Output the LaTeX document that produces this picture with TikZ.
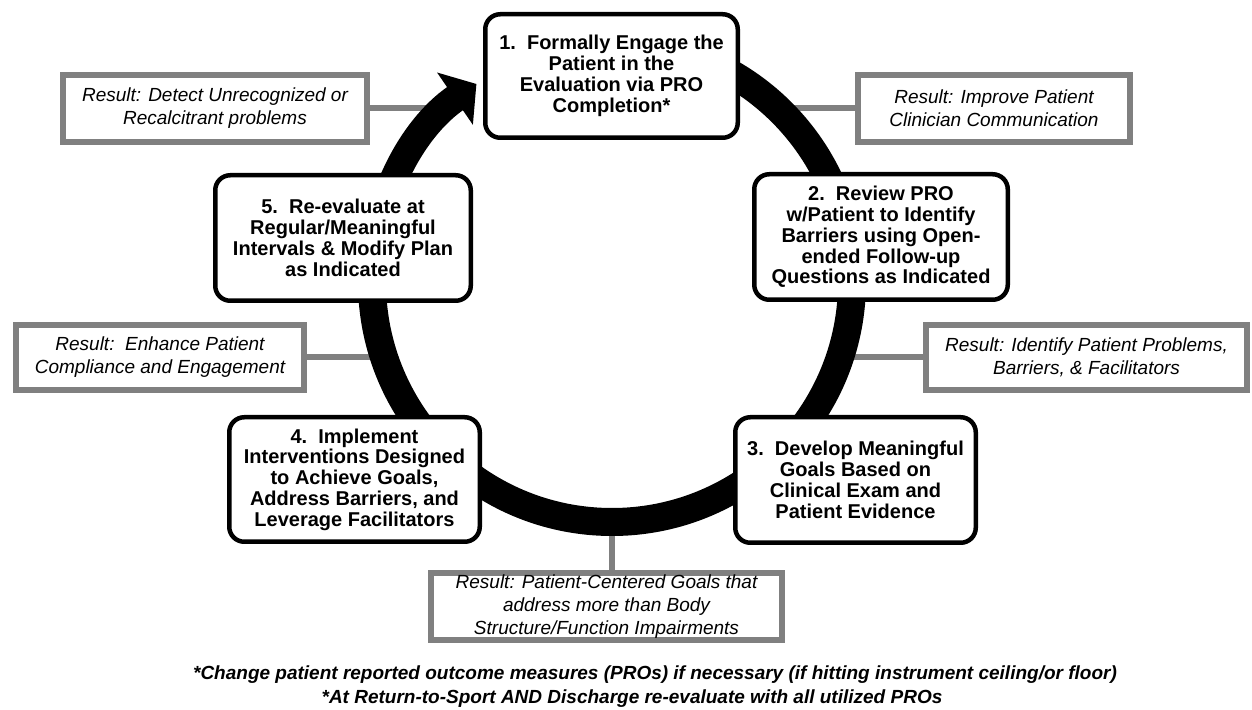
\documentclass[tikz,border=0pt]{standalone}
\usepackage{fontspec}
\setmainfont{Liberation Sans}
\usetikzlibrary{arrows.meta,calc}
\pgfdeclarelayer{back}
\pgfsetlayers{back,main}

\begin{document}
\begin{tikzpicture}[x=1pt,y=1pt,
    stepbox/.style={draw,line width=4.5pt,rounded corners=15pt,fill=white,align=center,inner sep=0pt,
        font=\fontsize{20}{20.8}\selectfont\bfseries},
    resultbox/.style={draw=black!50,line width=6pt,fill=white,align=center,inner sep=0pt,
        font=\fontsize{19}{23}\selectfont\itshape},
    link/.style={draw=black!50,line width=6pt},
    note/.style={font=\fontsize{19}{24}\selectfont\bfseries\itshape}]
    \useasboundingbox (0,0) rectangle (1252,709);
    %% Centre of the cycle and points on it
    \coordinate (ctr) at (612,427);
    \coordinate (P1) at ($(ctr)+(46.5:240)$);
    \coordinate (P2) at ($(ctr)+(-18.2:240)$);
    \coordinate (P3) at ($(ctr)+(270:240)$);
    \coordinate (P4) at ($(ctr)+(197.2:240)$);
    \coordinate (P5) at ($(ctr)+(133.1:240)$);
    %% Cycle arrow
    \draw[line width=28pt,-{Triangle[length=26pt,width=62pt]}] ($(ctr)+(90:240)$)
        arc[start angle=90,end angle=-235.6,radius=240];
    %% Steps
    \node[stepbox,minimum width=252.5,minimum height=123.5] (S1) at (611.5,633)
        {1.\ \ Formally Engage the\\Patient in the\\Evaluation via PRO\\Completion*};
    \node[stepbox,minimum width=253.5,minimum height=125.5] (S2) at (881,472)
        {2.\ \ Review PRO\\w/Patient to Identify\\Barriers using Open-\\ended Follow-up\\Questions as Indicated};
    \node[stepbox,minimum width=240.5,minimum height=125.5] (S3) at (855.5,229)
        {3.\ \ Develop Meaningful\\Goals Based on\\Clinical Exam and\\Patient Evidence};
    \node[stepbox,minimum width=250.5,minimum height=124.5] (S4) at (354.5,229.5)
        {4.\ \ Implement\\Interventions Designed\\to Achieve Goals,\\Address Barriers, and\\Leverage Facilitators};
    \node[stepbox,minimum width=255.5,minimum height=125.5] (S5) at (343,471)
        {5.\ \ Re-evaluate at\\Regular/Meaningful\\Intervals \& Modify Plan\\as Indicated};
    %% Results
    \node[resultbox,minimum width=272,minimum height=67] (R1) at (994,600.5)
        {Result: Improve Patient\\Clinician Communication};
    \node[resultbox,minimum width=321,minimum height=65] (R2) at (1086.5,351.5)
        {Result: Identify Patient Problems,\\Barriers, \& Facilitators};
    \node[resultbox,minimum width=351,minimum height=67] (R3) at (606.5,102.5)
        {Result: Patient-Centered Goals that\\address more than Body\\Structure/Function Impairments};
    \node[resultbox,minimum width=288,minimum height=65] (R4) at (160,351.5)
        {Result:\ \ Enhance Patient\\Compliance and Engagement};
    \node[resultbox,minimum width=304,minimum height=67] (R5) at (215,600.5)
        {Result: Detect Unrecognized or\\Recalcitrant problems};
    %% Links from results to the cycle
    \begin{pgfonlayer}{back}
        \draw[link] (R1.west) -- (R1.west -| P1);
        \draw[link] (R2.west) -- (R2.west -| P2);
        \draw[link] (P3 |- R3.north) -- (P3);
        \draw[link] (R4.east) -- (R4.east -| P4);
        \draw[link] (R5.east) -- (R5.east -| P5);
    \end{pgfonlayer}
    %% Notes
    \node[note] (N1) at (655,34)
        {*Change patient reported outcome measures (PROs) if necessary (if hitting instrument ceiling/or floor)};
    \node[note] (N2) at (632,10)
        {*At Return-to-Sport AND Discharge re-evaluate with all utilized PROs};
\end{tikzpicture}
\end{document}
